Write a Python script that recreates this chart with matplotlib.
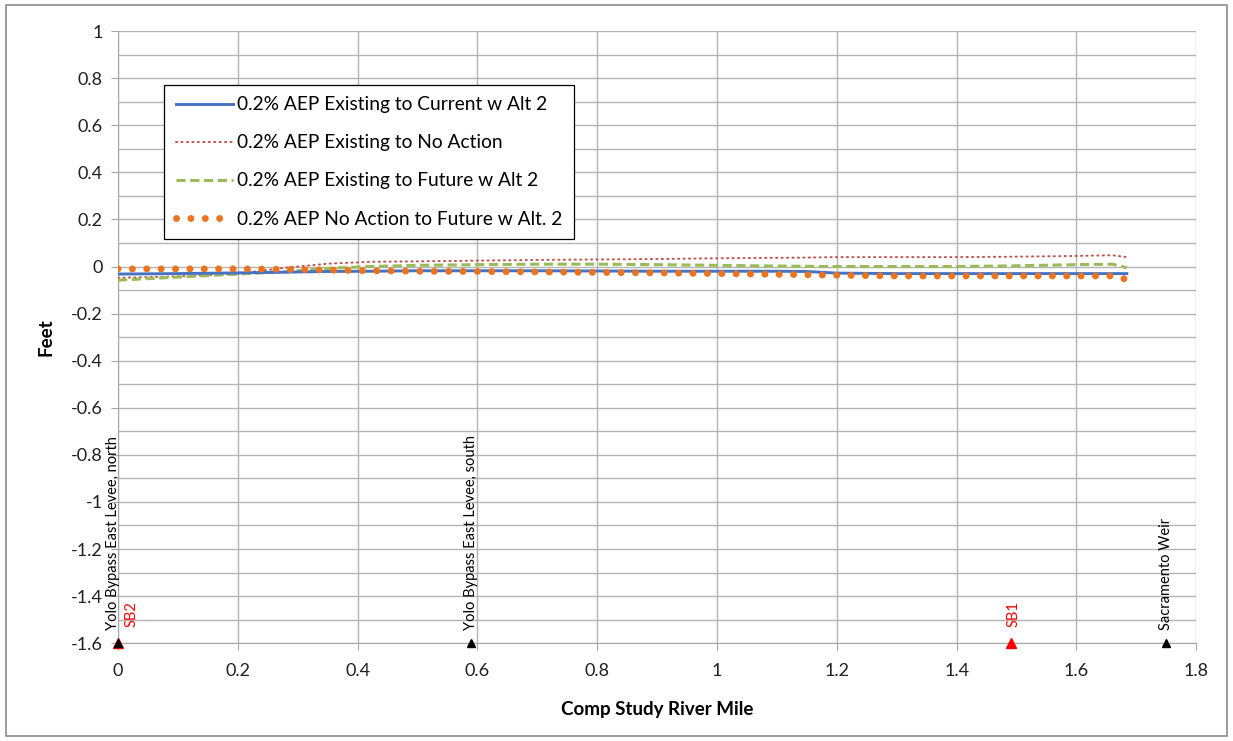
import numpy as np
import matplotlib
matplotlib.use("Agg")
import matplotlib.pyplot as plt
from matplotlib.patches import Rectangle

plt.rcParams['font.family'] = ['Lato', 'DejaVu Sans']

# comp study river mile stations
river_mile = [0.0, 0.1, 0.2, 0.28, 0.35, 0.42, 0.5, 0.6, 0.7, 0.8, 0.9,
              1.0, 1.1, 1.15, 1.2, 1.3, 1.4, 1.5, 1.6, 1.66, 1.684]

# change in water surface (feet)
exist_current_alt2 = [-0.032, -0.03, -0.027, -0.024, -0.021, -0.02, -0.018, -0.018, -0.018, -0.019, -0.02,
                      -0.02, -0.02, -0.021, -0.028, -0.03, -0.03, -0.03, -0.03, -0.03, -0.03]
exist_no_action = [-0.048, -0.042, -0.03, -0.005, 0.012, 0.02, 0.022, 0.025, 0.028, 0.03, 0.032,
                   0.035, 0.037, 0.038, 0.04, 0.04, 0.04, 0.042, 0.045, 0.048, 0.04]
exist_future_alt2 = [-0.058, -0.045, -0.032, -0.022, -0.008, 0.0, 0.005, 0.008, 0.01, 0.01, 0.008,
                     0.005, 0.002, 0.001, 0.0, 0.0, 0.0, 0.003, 0.008, 0.01, -0.005]
noaction_future_alt2 = [-0.01, -0.01, -0.01, -0.012, -0.015, -0.018, -0.02, -0.021, -0.023, -0.025, -0.027,
                        -0.03, -0.033, -0.035, -0.037, -0.04, -0.04, -0.04, -0.04, -0.04, -0.055]

legend_labels = ['0.2% AEP Existing to Current w Alt 2',
                 '0.2% AEP Existing to No Action',
                 '0.2% AEP Existing to Future w Alt 2',
                 '0.2% AEP No Action to Future w Alt. 2']

# landmarks along the bottom of the chart
landmark_mile = [0.0, 0.59, 1.75]
landmark_name = ['Yolo Bypass East Levee, north', 'Yolo Bypass East Levee, south', 'Sacramento Weir']
gage_mile = [0.0, 1.49]
gage_name = ['SB2', 'SB1']
marker_level = -1.6

fig = plt.figure(figsize=(12.33, 7.41), dpi=100)
ax = fig.add_axes([0.0957, 0.132, 0.8745, 0.826])

ax.plot(river_mile, exist_current_alt2, color='#4472C4', lw=2.1, label=legend_labels[0], zorder=4)
ax.plot(river_mile, exist_no_action, color='#C0504D', lw=1.4, linestyle=(0, (0.6, 2.2)),
        dash_capstyle='round', label=legend_labels[1], zorder=3)
ax.plot(river_mile, exist_future_alt2, color='#9BBB59', lw=2.2, linestyle=(0, (3.0, 1.5)),
        label=legend_labels[2], zorder=3)
ax.plot(river_mile, noaction_future_alt2, color='#EB7420', lw=5.0, linestyle=(0, (0.01, 2.06)),
        dash_capstyle='round', label=legend_labels[3], zorder=5)

# landmarks
for xm, name in zip(landmark_mile, landmark_name):
    ax.plot([xm], [marker_level], marker='^', color='black', ms=5.5, ls='none', zorder=6, clip_on=False)
    dx = -0.008 if xm == 0.0 else 0.0
    ax.text(xm + dx, marker_level + 0.055, name, rotation=90, ha='center', va='bottom',
            fontsize=10.5, color='black')
for xm, name in zip(gage_mile, gage_name):
    ax.plot([xm], [marker_level], marker='^', color='red', ms=7, ls='none', zorder=5, clip_on=False)
    dx = 0.022 if xm == 0.0 else 0.005
    ax.text(xm + dx, marker_level + 0.07, name, rotation=90, ha='center', va='bottom',
            fontsize=10.5, color='red')

ax.set_xlim(0, 1.8)
ax.set_ylim(-1.6, 1.0)
ax.set_xticks(np.arange(0, 1.81, 0.2))
ax.set_xticklabels(['0', '0.2', '0.4', '0.6', '0.8', '1', '1.2', '1.4', '1.6', '1.8'])
ax.set_yticks(np.arange(-1.6, 1.01, 0.2))
ax.set_yticklabels(['-1.6', '-1.4', '-1.2', '-1', '-0.8', '-0.6', '-0.4', '-0.2', '0',
                    '0.2', '0.4', '0.6', '0.8', '1'])
ax.set_yticks(np.arange(-1.5, 1.0, 0.2), minor=True)
ax.tick_params(axis='both', which='major', labelsize=13, direction='out', length=5,
               color='#A6A6A6', pad=6, labelcolor='#202020')
ax.tick_params(axis='x', which='major', pad=9)
ax.tick_params(axis='y', which='minor', length=0)

ax.grid(True, which='major', color='#B4B4B4', lw=1.0)
ax.grid(True, which='minor', axis='y', color='#B4B4B4', lw=1.0)
ax.set_axisbelow(True)
for side in ['top', 'right']:
    ax.spines[side].set_visible(False)
for side in ['left', 'bottom']:
    ax.spines[side].set_color('#A6A6A6')

ax.set_xlabel('Comp Study River Mile', fontsize=13.5, fontweight='bold', labelpad=16)
ax.set_ylabel('Feet', fontsize=13.5, fontweight='bold', labelpad=12)

leg = ax.legend(loc='upper left', bbox_to_anchor=(0.034, 0.928), fontsize=13.8,
                handlelength=3.0, handletextpad=0.2, labelspacing=1.1,
                borderpad=0.6, fancybox=False, framealpha=1, edgecolor='black')
leg.get_frame().set_linewidth(0.9)

# chart area border
fig.patches.append(Rectangle((0.005, 0.007), 0.99, 0.986, transform=fig.transFigure,
                             fill=False, edgecolor='#8C8C8C', lw=1.2))

fig.savefig('out.png', dpi=100)
